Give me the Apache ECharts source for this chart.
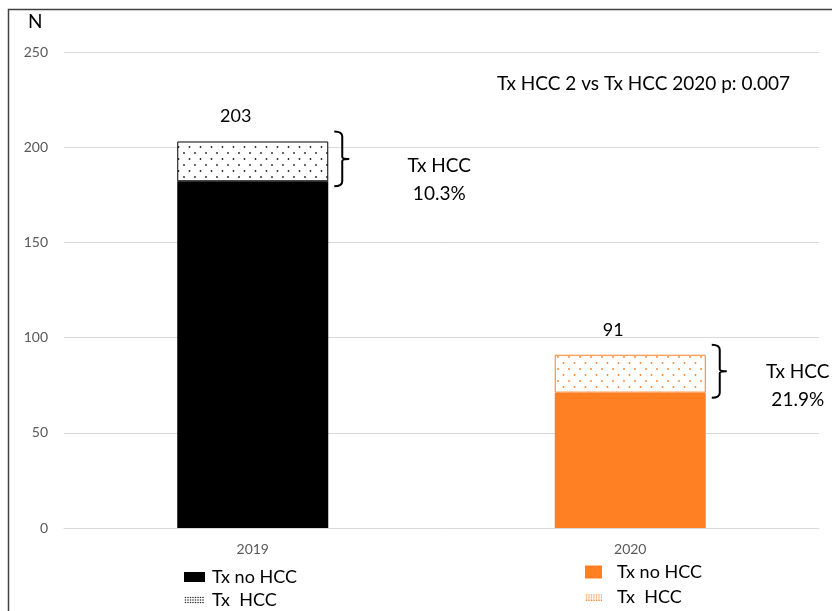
<!DOCTYPE html>
<html>
<head>
<meta charset="utf-8">
<script src="https://cdn.jsdelivr.net/npm/echarts@6/dist/echarts.min.js"></script>
<style>
  html, body { margin: 0; padding: 0; background: #fff; }
  #chart { width: 832px; height: 611px; }
</style>
</head>
<body>
<div id="chart"></div>
<script>
// Transplant counts per year, split by HCC indication
const years = ['2019', '2020'];
const txNoHcc = [182.1, 71.1];
const txHcc = [20.9, 19.9];
const yTicks = [0, 50, 100, 150, 200, 250];
const comparisonText = 'Tx HCC 2 vs Tx HCC 2020 p: 0.007';
const noHccLabel = 'Tx no HCC';
const hccLabel = 'Tx  HCC';

const FONT = 'Lato, "Liberation Sans", sans-serif';
const ORANGE = '#FF7F22';

// Dotted tile used for the HCC part of each bar
function dotCanvas(w, h, dotColor, dots, r) {
  const c = document.createElement('canvas');
  c.width = w; c.height = h;
  const ctx = c.getContext('2d');
  ctx.fillStyle = '#fff';
  ctx.fillRect(0, 0, w, h);
  ctx.fillStyle = dotColor;
  dots.forEach(([x, y]) => {
    ctx.beginPath();
    ctx.arc(x, y, r, 0, Math.PI * 2);
    ctx.fill();
  });
  return c;
}
function dotPattern(dotColor) {
  return { image: dotCanvas(11, 12, dotColor, [[2.5, 3], [8, 9]], 0.9), repeat: 'repeat' };
}
// Small dense-dot swatch for the legend
function legendSwatch(w, h, dotColor) {
  const dots = [];
  for (let y = 1.5; y < h; y += 2.5) {
    for (let x = 1.5; x < w; x += 2.5) dots.push([x, y]);
  }
  return 'image://' + dotCanvas(w, h, dotColor, dots, 0.8).toDataURL();
}

const totals = years.map((_, i) => Math.round(txNoHcc[i] + txHcc[i]));
const shareText = years.map((_, i) => (txHcc[i] / (txNoHcc[i] + txHcc[i]) * 100).toFixed(1) + '%');

// Placement of the bracket notes beside each bar (pixels)
const noteDx = [97, 78];
const noteDy = [21, 15];

function onlyAt(i, arr) {
  return years.map((_, j) => (j === i ? arr[i] : '-'));
}

const totalLabel = {
  show: true,
  position: 'top',
  offset: [-17, -11],
  fontFamily: FONT,
  fontSize: 18,
  color: '#000',
  formatter: p => String(totals[p.dataIndex])
};

function legendItem(name, left, top, w, h, gap, icon) {
  return {
    left, top,
    padding: 0,
    itemWidth: w,
    itemHeight: h,
    data: [name],
    formatter: n => n.slice(5),
    textStyle: { fontFamily: FONT, fontSize: 18, lineHeight: 20, color: '#000', padding: [0, 0, 0, gap] },
    selectedMode: false,
    icon
  };
}

const chart = echarts.init(document.getElementById('chart'), null, { renderer: 'canvas' });

chart.setOption({
  animation: false,
  backgroundColor: '#fff',
  textStyle: { fontFamily: FONT },
  grid: { left: 64, right: 13, top: 52, bottom: 83 },
  title: {
    text: comparisonText,
    left: 492,
    top: 69,
    textStyle: { fontFamily: FONT, fontSize: 19, fontWeight: 'normal', color: '#000' }
  },
  legend: [
    legendItem('2019 ' + noHccLabel, 184, 567, 21, 10, 2, 'rect'),
    legendItem('2019 ' + hccLabel, 184, 590, 21, 8, 2, legendSwatch(21, 8, '#333')),
    legendItem('2020 ' + noHccLabel, 585, 562, 17, 13, 10, 'rect'),
    legendItem('2020 ' + hccLabel, 585, 587, 17, 7, 10, legendSwatch(17, 7, '#FF8C3A'))
  ],
  xAxis: {
    type: 'category',
    data: years,
    axisLine: { show: true, lineStyle: { color: '#d9d9d9' } },
    axisTick: { show: false },
    axisLabel: { color: '#595959', fontSize: 14, fontFamily: FONT, margin: 14 }
  },
  yAxis: {
    type: 'value',
    min: yTicks[0],
    max: yTicks[yTicks.length - 1],
    interval: yTicks[1] - yTicks[0],
    axisLine: { show: false },
    axisTick: { show: false },
    axisLabel: { color: '#595959', fontSize: 14, fontFamily: FONT, margin: 16 },
    splitLine: { lineStyle: { color: '#d9d9d9', width: 1 } }
  },
  graphic: [
    {
      type: 'polyline',
      shape: { points: [[8.5, 611], [8.5, 9.5], [832, 9.5]] },
      style: { stroke: '#404040', lineWidth: 1.5, fill: null },
      silent: true
    },
    {
      type: 'text',
      left: 28,
      top: 12,
      style: { text: 'N', font: '19px ' + FONT, fill: '#000' }
    }
  ],
  series: [
    {
      name: '2019 ' + noHccLabel,
      type: 'bar',
      stack: 'tx',
      barWidth: '40%',
      data: onlyAt(0, txNoHcc),
      itemStyle: { color: '#000' }
    },
    {
      name: '2019 ' + hccLabel,
      type: 'bar',
      stack: 'tx',
      data: onlyAt(0, txHcc),
      itemStyle: { color: dotPattern('#222'), borderColor: '#000', borderWidth: 1 },
      label: totalLabel
    },
    {
      name: '2020 ' + noHccLabel,
      type: 'bar',
      stack: 'tx',
      data: onlyAt(1, txNoHcc),
      itemStyle: { color: ORANGE }
    },
    {
      name: '2020 ' + hccLabel,
      type: 'bar',
      stack: 'tx',
      data: onlyAt(1, txHcc),
      itemStyle: { color: dotPattern(ORANGE), borderColor: ORANGE, borderWidth: 1 },
      label: totalLabel
    },
    {
      // Curly brackets marking the HCC share of each bar, with its percentage
      type: 'custom',
      z: 10,
      silent: true,
      data: years.map((_, i) => [i, txNoHcc[i], txNoHcc[i] + txHcc[i]]),
      encode: { x: 0, y: [1, 2] },
      renderItem: (params, api) => {
        const i = api.value(0);
        const top = api.coord([i, api.value(2)]);
        const bot = api.coord([i, api.value(1)]);
        const half = api.size([1, 0])[0] * 0.2;
        const x = top[0] + half + 14;
        const yt = top[1] - 10;
        const yb = bot[1] + 5;
        const ym = (yt + yb) / 2;
        const d =
          `M ${x - 8} ${yt} Q ${x} ${yt} ${x} ${yt + 5} L ${x} ${ym - 2} Q ${x} ${ym} ${x + 7} ${ym} ` +
          `M ${x + 7} ${ym} Q ${x} ${ym} ${x} ${ym + 2} L ${x} ${yb - 5} Q ${x} ${yb} ${x - 8} ${yb}`;
        return {
          type: 'group',
          children: [
            {
              type: 'path',
              shape: { pathData: d },
              style: { stroke: '#000', lineWidth: 2, fill: null }
            },
            {
              type: 'text',
              style: {
                text: 'Tx HCC\n' + shareText[i],
                x: x + noteDx[i],
                y: ym + noteDy[i],
                align: 'center',
                verticalAlign: 'middle',
                textAlign: 'center',
                textVerticalAlign: 'middle',
                font: '19px ' + FONT,
                lineHeight: 28,
                fill: '#000'
              }
            }
          ]
        };
      }
    }
  ]
});
</script>
</body>
</html>
